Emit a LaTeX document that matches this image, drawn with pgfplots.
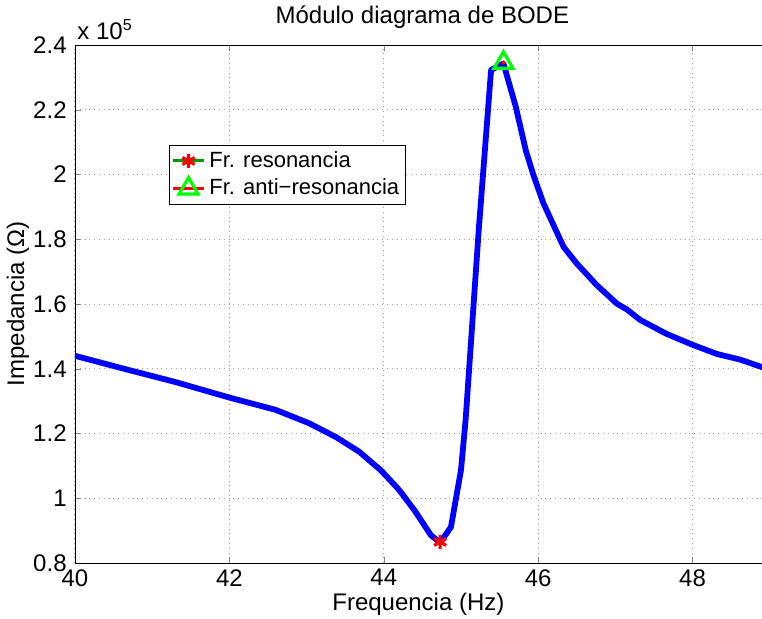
\documentclass[border=0pt]{standalone}
\usepackage{pgfplots}
\pgfplotsset{compat=1.18}
\usepackage{fontspec}
\setmainfont{Liberation Sans}
\definecolor{mgreen}{rgb}{0,0.6,0}
\definecolor{bgreen}{rgb}{0,1,0}
\newcommand{\ff}{\fontsize{12}{14}\selectfont}
\newcommand{\fl}{\fontsize{11}{13}\selectfont}
\begin{document}
\ff
\begin{tikzpicture}
\path[use as bounding box] (-37.5pt,-27.5pt) rectangle (343.5pt,281.5pt);
\begin{axis}[
  at={(0,0)}, anchor=south west,
  scale only axis,
  width=347.4pt, height=259pt,
  xmin=40, xmax=49, ymin=0.8, ymax=2.4,
  xtick={40,42,44,46,48},
  ytick={0.8,1,1.2,1.4,1.6,1.8,2,2.2,2.4},
  yticklabels={0.8,1,1.2,1.4,1.6,1.8,2,2.2,2.4},
  tick align=inside, tick pos=both,
  major tick length=3pt,
  grid=major,
  major grid style={dotted, gray!80, line width=0.5pt},
  /pgf/number format/assume math mode=true,
  ticklabel style={font=\ff},
  xticklabel style={yshift=1pt},
  yticklabel style={xshift=0pt},
  title={Módulo diagrama de BODE},
  every axis title/.style={at={(axis description cs:0.5,1)}, yshift=14pt, anchor=center, font=\ff},
  xlabel={Frequencia (Hz)},
  every axis x label/.style={at={(axis description cs:0.5,0)}, yshift=-20.5pt, xshift=-2pt, anchor=center, font=\ff},
  ylabel={Impedancia (Ω)},
  every axis y label/.style={at={(axis description cs:0,0.5)}, xshift=-28.5pt, rotate=90, anchor=center, font=\ff},
  legend style={at={(axis cs:41.22,2.092)}, anchor=north west, draw=black, line width=0.5pt,
    font=\fl, inner sep=1pt, row sep=0pt, cells={anchor=west}},
  legend image code/.code={\draw[mark repeat=2,mark phase=2] plot coordinates {(0cm,0cm) (0.27cm,0cm) (0.54cm,0cm)};},
]
\addplot[blue, line width=2.9pt, forget plot, line join=round] coordinates {
(40.00,1.440) (40.65,1.399) (41.30,1.359) (42.00,1.311) (42.60,1.273)
(43.03,1.232) (43.38,1.189) (43.68,1.144) (43.96,1.087) (44.16,1.036)
(44.22,1.019) (44.40,0.962) (44.61,0.886) (44.73,0.863) (44.87,0.911)
(45.00,1.087) (45.06,1.242) (45.23,1.829) (45.39,2.323) (45.55,2.343)
(45.71,2.209) (45.84,2.074) (45.94,1.997) (46.07,1.910) (46.33,1.776)
(46.50,1.725) (46.76,1.658) (47.02,1.601) (47.15,1.583) (47.32,1.551)
(47.66,1.508) (48.00,1.474) (48.31,1.446) (48.62,1.428) (48.90,1.405)
(49.00,1.400)
};
\addplot[mgreen, line width=1.5pt, mark=asterisk, mark size=3.5pt, mark options={red, solid, line width=1.6pt}] coordinates {(44.73,0.865)};
\addlegendentry{Fr. resonancia}
\addplot[red, line width=1.5pt, mark=triangle, mark size=5.5pt, mark options={bgreen, solid, line width=1.6pt}] coordinates {(45.55,2.345)};
\addlegendentry{Fr. anti\textminus resonancia}
\addplot[red, forget plot, mark=*, mark size=0.9pt, only marks] coordinates {(45.55,2.345)};
\end{axis}
\node[anchor=south west, inner sep=0pt, font=\ff] at (1pt,261.5pt) {x 10\textsuperscript{5}};
\end{tikzpicture}
\end{document}
